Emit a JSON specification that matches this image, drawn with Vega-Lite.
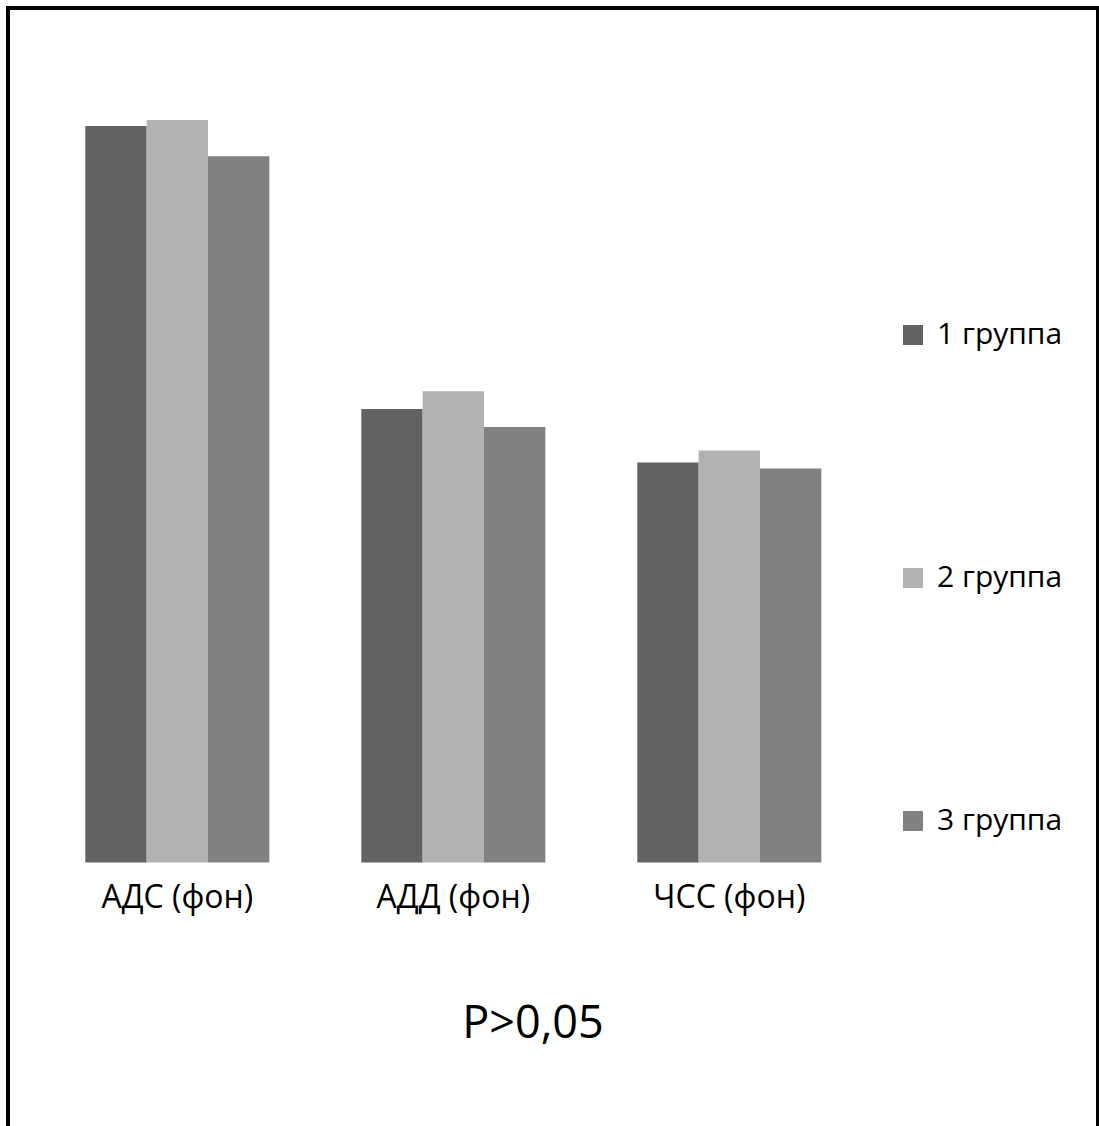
{
  "$schema": "https://vega.github.io/schema/vega-lite/v6.json",
  "autosize": {"type": "none"},
  "padding": {"left": 8, "top": 8, "right": 2, "bottom": 0},
  "width": 1090,
  "height": 1130,
  "background": "white",
  "config": {
    "view": {"stroke": "#000000", "strokeWidth": 4},
    "font": "Open Sans"
  },
  "data": {
    "values": [
      {"indicator": "АДС (фон)", "group": "1 группа", "value": 124.1},
      {"indicator": "АДС (фон)", "group": "2 группа", "value": 125.1},
      {"indicator": "АДС (фон)", "group": "3 группа", "value": 119.0},
      {"indicator": "АДД (фон)", "group": "1 группа", "value": 76.4},
      {"indicator": "АДД (фон)", "group": "2 группа", "value": 79.4},
      {"indicator": "АДД (фон)", "group": "3 группа", "value": 73.4},
      {"indicator": "ЧСС (фон)", "group": "1 группа", "value": 67.4},
      {"indicator": "ЧСС (фон)", "group": "2 группа", "value": 69.4},
      {"indicator": "ЧСС (фон)", "group": "3 группа", "value": 66.4}
    ]
  },
  "mark": {"type": "bar"},
  "encoding": {
    "x": {
      "field": "indicator",
      "type": "nominal",
      "sort": ["АДС (фон)", "АДД (фон)", "ЧСС (фон)"],
      "scale": {"paddingInner": 0.3333, "paddingOuter": 0.6413, "align": 0.2184},
      "axis": {
        "orient": "bottom",
        "offset": -275.5,
        "domain": false,
        "ticks": false,
        "labelAngle": 0,
        "labelPadding": 20,
        "labelFontSize": 32,
        "labelColor": "#000000",
        "labelFont": "Open Sans",
        "title": "P>0,05",
        "titleFont": "Open Sans",
        "titleFontSize": 45,
        "titleFontWeight": "normal",
        "titleColor": "#000000",
        "titlePadding": 88,
        "titleX": 524.5,
        "titleAlign": "center"
      }
    },
    "xOffset": {
      "field": "group",
      "type": "nominal",
      "sort": ["1 группа", "2 группа", "3 группа"],
      "scale": {"paddingInner": 0, "paddingOuter": 0}
    },
    "y": {
      "field": "value",
      "type": "quantitative",
      "scale": {"domain": [-46.42, 143.98], "nice": false, "zero": false},
      "axis": null
    },
    "color": {
      "field": "group",
      "type": "nominal",
      "sort": ["1 группа", "2 группа", "3 группа"],
      "scale": {"domain": ["1 группа", "2 группа", "3 группа"], "range": ["#626262", "#b2b2b2", "#818181"]},
      "legend": {
        "orient": "none",
        "legendX": 890,
        "legendY": 312,
        "title": null,
        "padding": 0,
        "symbolType": "square",
        "symbolSize": 400,
        "symbolStrokeWidth": 0,
        "symbolOpacity": 1,
        "labelFont": "Open Sans",
        "labelFontSize": 30,
        "labelColor": "#000000",
        "labelOffset": 9,
        "rowPadding": 213,
        "labelLimit": 300
      }
    }
  }
}
